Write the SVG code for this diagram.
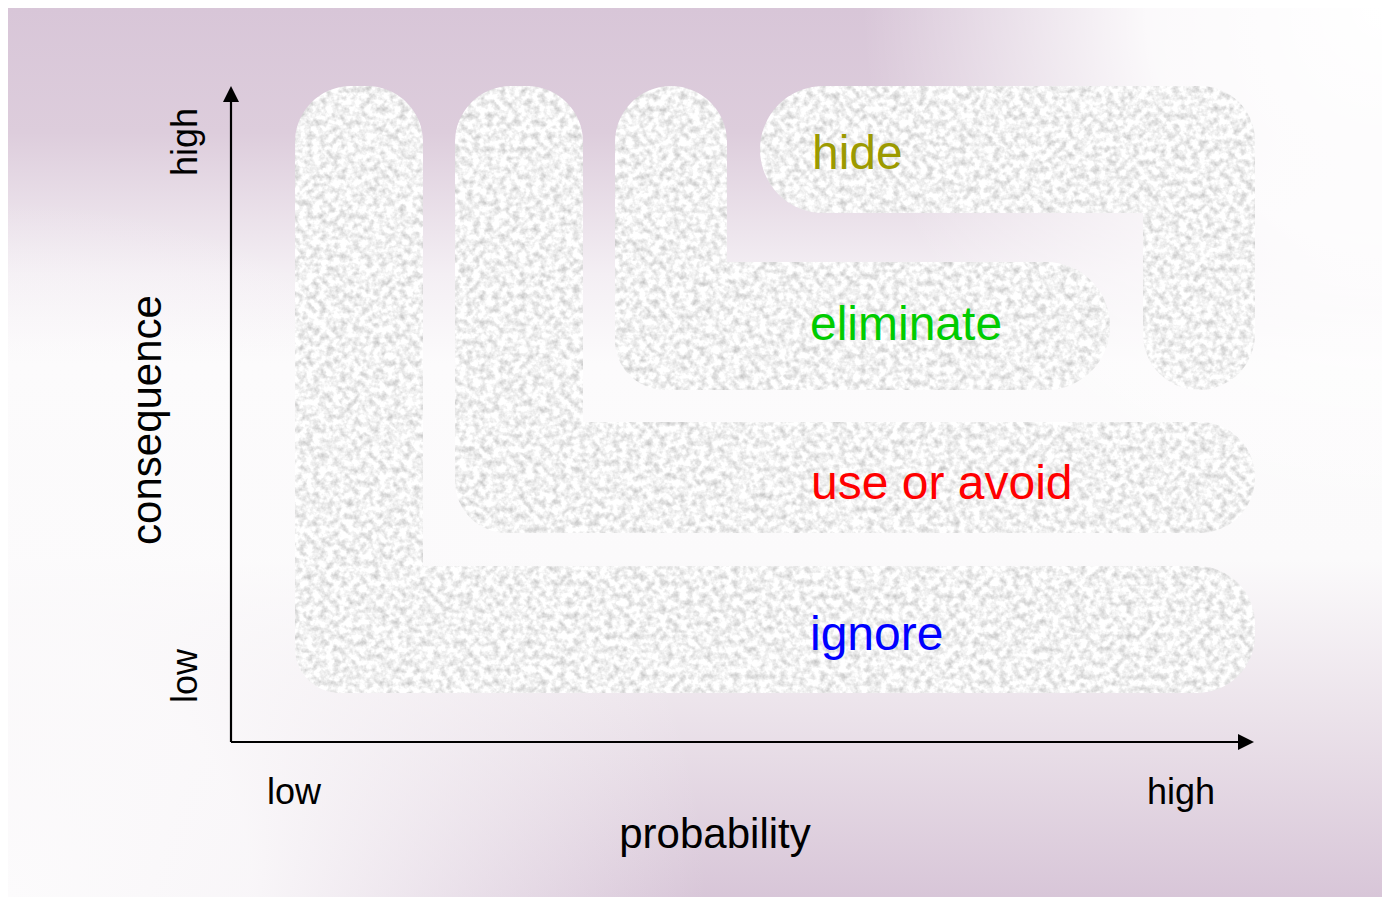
<svg xmlns="http://www.w3.org/2000/svg" width="1382" height="897" viewBox="0 0 1382 897">
  <style>
    .lbl { font-family: "Liberation Sans", Arial, sans-serif; font-size: 48px; }
    .tick { font-family: "Liberation Sans", Arial, sans-serif; font-size: 36px; fill: #000; }
    .title { font-family: "Liberation Sans", Arial, sans-serif; font-size: 42px; fill: #000; }
    .axis { stroke: #000; stroke-width: 2.2; fill: none; }
    .region { fill: #ececec; filter: url(#tex); }
  </style>
  <defs>
    <linearGradient id="bg" gradientUnits="userSpaceOnUse" x1="0" y1="8" x2="0" y2="897">
      <stop offset="0" stop-color="#d8c6d8"/>
      <stop offset="0.14" stop-color="#ddcddc"/>
      <stop offset="0.3" stop-color="#f4eff4"/>
      <stop offset="0.4" stop-color="#fcfbfc"/>
      <stop offset="0.62" stop-color="#fbfafb"/>
      <stop offset="0.8" stop-color="#ebe2ea"/>
      <stop offset="1" stop-color="#d8c6d8"/>
    </linearGradient>
    <radialGradient id="tr" gradientUnits="userSpaceOnUse" cx="1382" cy="8" r="520">
      <stop offset="0" stop-color="#ffffff" stop-opacity="1"/>
      <stop offset="0.45" stop-color="#ffffff" stop-opacity="0.9"/>
      <stop offset="1" stop-color="#ffffff" stop-opacity="0"/>
    </radialGradient>
    <radialGradient id="bl" gradientUnits="userSpaceOnUse" cx="8" cy="897" r="700">
      <stop offset="0" stop-color="#fcfbfc" stop-opacity="1"/>
      <stop offset="0.35" stop-color="#fcfbfc" stop-opacity="0.9"/>
      <stop offset="1" stop-color="#fcfbfc" stop-opacity="0"/>
    </radialGradient>
    <filter id="tex" x="0" y="0" width="1" height="1" color-interpolation-filters="sRGB">
      <feTurbulence type="fractalNoise" baseFrequency="0.15" numOctaves="3" seed="7" result="n"/>
      <feColorMatrix in="n" type="matrix" values="0.42 0 0 0 0.74  0.42 0 0 0 0.74  0.42 0 0 0 0.74  0 0 0 0 1" result="g"/>
      <feComposite in="g" in2="SourceGraphic" operator="in"/>
    </filter>
    <marker id="arrow" viewBox="0 0 16 16" refX="2" refY="8" markerWidth="16" markerHeight="16" orient="auto" markerUnits="userSpaceOnUse">
      <path d="M0,0 L16,8 L0,16 Z" fill="#000"/>
    </marker>
  </defs>

  <rect x="0" y="0" width="1382" height="897" fill="#ffffff"/>
  <rect x="8" y="8" width="1374" height="889" fill="url(#bg)"/>
  <rect x="8" y="8" width="1374" height="889" fill="url(#tr)"/>
  <rect x="8" y="8" width="1374" height="889" fill="url(#bl)"/>

  <g id="node-ignore">
    <path class="region" d="M295 142 A56 56 0 0 1 351 86 L367 86 A56 56 0 0 1 423 142 L423 566 L1197 566 A58 58 0 0 1 1255 624 L1255 635 A58 58 0 0 1 1197 693 L340 693 A45 45 0 0 1 295 648 Z"/>
    <text class="lbl" x="810" y="650" fill="#0000ff">ignore</text>
  </g>

  <g id="node-use-or-avoid">
    <path class="region" d="M455 142 A56 56 0 0 1 511 86 L527 86 A56 56 0 0 1 583 142 L583 422 L1199.5 422 A55.5 55.5 0 0 1 1199.5 533 L507 533 A52 52 0 0 1 455 481 Z"/>
    <text class="lbl" x="811" y="499" fill="#ff0000">use or avoid</text>
  </g>

  <g id="node-eliminate">
    <path class="region" d="M615 142 A56 56 0 0 1 727 142 L727 262 L1046 262 A64 64 0 0 1 1046 390 L665 390 A50 50 0 0 1 615 340 Z"/>
    <text class="lbl" x="810" y="340" fill="#00cc00">eliminate</text>
  </g>

  <g id="node-hide">
    <path class="region" d="M823.5 86 L1200 86 A55 55 0 0 1 1255 141 L1255 334 A56 56 0 0 1 1143 334 L1143 213 L823.5 213 A63.5 63.5 0 0 1 823.5 86 Z"/>
    <text class="lbl" x="812" y="169" fill="#9c9a00">hide</text>
  </g>

  <g id="connectors">
    <path class="axis" d="M231 742 L231 100" marker-end="url(#arrow)"/>
    <path class="axis" d="M231 742 L1240 742" marker-end="url(#arrow)"/>
  </g>

  <g id="axis-labels">
    <text class="tick" x="267" y="804">low</text>
    <text class="tick" x="1147" y="804">high</text>
    <text class="title" x="715" y="848" text-anchor="middle">probability</text>
    <text class="tick" transform="translate(197 703) rotate(-90)">low</text>
    <text class="tick" transform="translate(197 176) rotate(-90)">high</text>
    <text class="title" transform="translate(161 420) rotate(-90)" text-anchor="middle">consequence</text>
  </g>
</svg>
